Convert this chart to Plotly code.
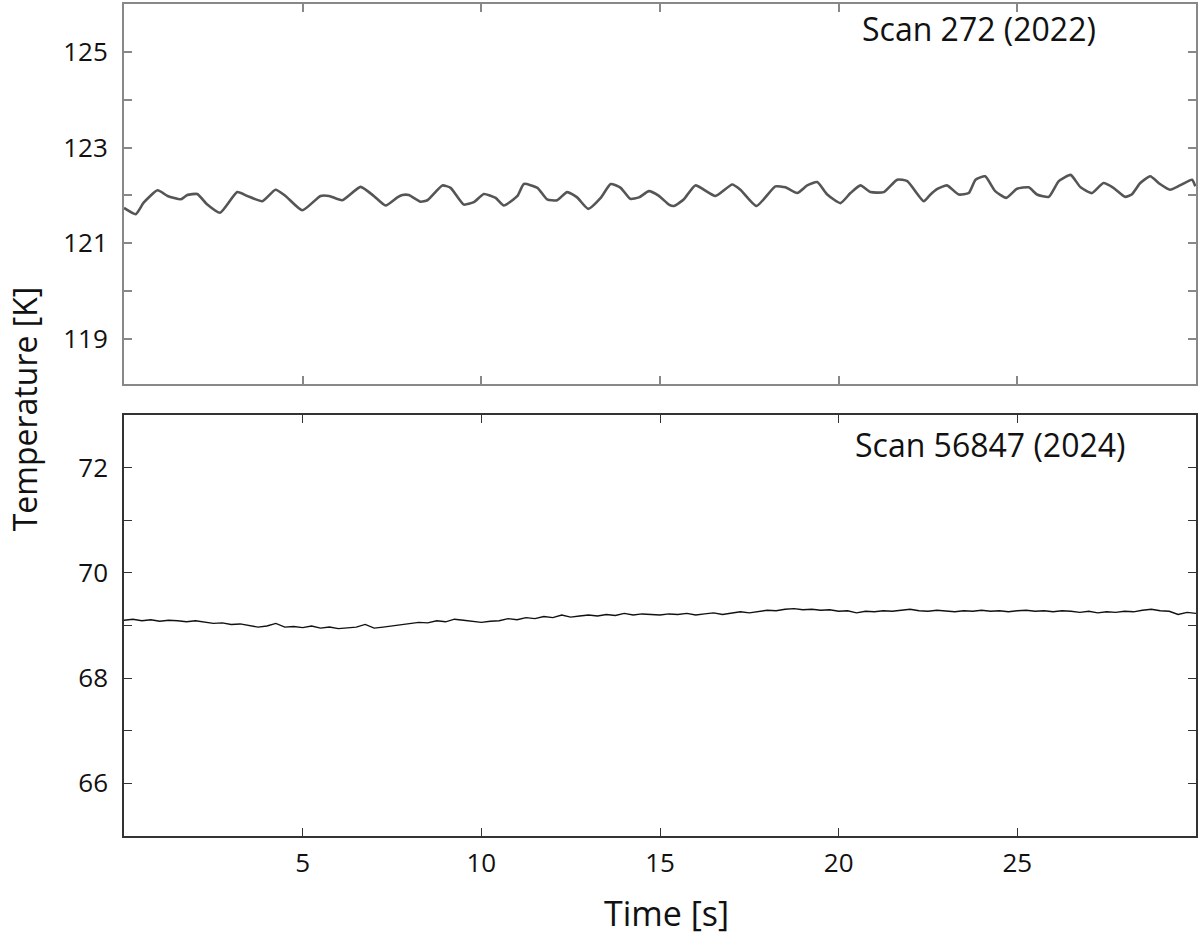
import plotly.graph_objects as go

# Scan 272 (2022)
top_time = [0.00, 0.33, 0.55, 0.94, 1.22, 1.59, 1.77, 2.05, 2.33, 2.69, 3.17, 3.45, 3.87,
            4.24, 4.52, 4.99, 5.50, 5.74, 6.11, 6.62, 6.99, 7.32, 7.65, 7.79, 7.97, 8.30,
            8.49, 8.91, 9.14, 9.51, 9.79, 10.07, 10.40, 10.63, 11.01, 11.19, 11.57, 11.84,
            12.12, 12.40, 12.68, 12.99, 13.34, 13.62, 13.90, 14.17, 14.41, 14.69, 14.97,
            15.25, 15.39, 15.67, 15.99, 16.55, 17.02, 17.25, 17.70, 18.23, 18.51, 18.84,
            19.12, 19.40, 19.68, 20.05, 20.33, 20.61, 20.89, 21.26, 21.64, 21.92, 22.38,
            22.57, 22.75, 23.03, 23.36, 23.64, 23.83, 24.10, 24.38, 24.69, 24.99, 25.32,
            25.55, 25.88, 26.16, 26.49, 26.77, 27.09, 27.41, 27.69, 28.02, 28.20, 28.44,
            28.72, 28.99, 29.27, 29.55, 29.89, 29.98]
top_temp = [121.74, 121.61, 121.85, 122.11, 121.99, 121.92, 122.01, 122.03, 121.81, 121.64,
            122.07, 121.99, 121.88, 122.12, 121.99, 121.69, 121.99, 121.99, 121.90, 122.18,
            121.99, 121.79, 121.96, 122.01, 122.01, 121.87, 121.90, 122.21, 122.16, 121.81,
            121.86, 122.03, 121.95, 121.79, 121.99, 122.24, 122.16, 121.92, 121.90, 122.07,
            121.96, 121.72, 121.95, 122.24, 122.16, 121.93, 121.96, 122.09, 121.99, 121.81,
            121.78, 121.92, 122.21, 121.99, 122.23, 122.12, 121.78, 122.19, 122.17, 122.05,
            122.21, 122.28, 122.02, 121.84, 122.05, 122.21, 122.07, 122.07, 122.33, 122.30,
            121.88, 122.02, 122.13, 122.21, 122.02, 122.05, 122.33, 122.40, 122.09, 121.95,
            122.14, 122.17, 122.02, 121.97, 122.30, 122.43, 122.17, 122.05, 122.26, 122.16,
            121.97, 122.02, 122.26, 122.40, 122.24, 122.12, 122.21, 122.33, 122.19]

# Scan 56847 (2024) - every 0.25 s
bot_time = [i * 0.25 for i in range(121)]
bot_temp = [69.10, 69.12, 69.09, 69.11, 69.08, 69.10, 69.09, 69.07, 69.09, 69.06,
            69.04, 69.05, 69.02, 69.03, 69.00, 68.97, 68.99, 69.04, 68.97, 68.98,
            68.96, 68.99, 68.95, 68.97, 68.94, 68.96, 68.97, 69.02, 68.95, 68.97,
            68.99, 69.01, 69.04, 69.06, 69.05, 69.09, 69.07, 69.12, 69.10, 69.08,
            69.06, 69.08, 69.09, 69.13, 69.11, 69.15, 69.13, 69.17, 69.15, 69.20,
            69.16, 69.18, 69.20, 69.18, 69.21, 69.19, 69.23, 69.20, 69.22, 69.21,
            69.20, 69.22, 69.21, 69.23, 69.20, 69.22, 69.24, 69.21, 69.23, 69.26,
            69.24, 69.27, 69.29, 69.28, 69.31, 69.32, 69.30, 69.31, 69.29, 69.30,
            69.27, 69.28, 69.24, 69.27, 69.26, 69.28, 69.27, 69.29, 69.31, 69.28,
            69.27, 69.29, 69.28, 69.26, 69.28, 69.27, 69.29, 69.27, 69.28, 69.26,
            69.28, 69.29, 69.27, 69.28, 69.26, 69.28, 69.27, 69.25, 69.27, 69.24,
            69.26, 69.25, 69.27, 69.26, 69.29, 69.31, 69.28, 69.27, 69.21, 69.25,
            69.23]

x_ticks = [5, 10, 15, 20, 25]
top_yticks = [119, 120, 121, 122, 123, 124, 125]
top_ylabels = ["119", "", "121", "", "123", "", "125"]
bot_yticks = [66, 67, 68, 69, 70, 71, 72]
bot_ylabels = ["66", "", "68", "", "70", "", "72"]

FONT = "Open Sans, Noto Sans, sans-serif"

fig = go.Figure()
fig.add_trace(go.Scatter(x=top_time, y=top_temp, mode="lines", xaxis="x", yaxis="y",
                         line=dict(color="#555555", width=2.6, shape="spline", smoothing=0.5),
                         showlegend=False))
fig.add_trace(go.Scatter(x=bot_time, y=bot_temp, mode="lines", xaxis="x2", yaxis="y2",
                         line=dict(color="#111111", width=1.4),
                         showlegend=False))

tick_font = dict(family=FONT, size=26, color="#111111")

fig.update_layout(
    width=1200, height=937,
    margin=dict(l=124, r=3, t=2, b=101),
    paper_bgcolor="white", plot_bgcolor="white",
    font=dict(family=FONT, color="#111111"),
    xaxis=dict(domain=[0, 1], range=[0, 30], anchor="y",
               tickvals=x_ticks, showticklabels=False,
               ticks="inside", ticklen=8, tickcolor="#888888", tickwidth=1.5,
               showline=True, linecolor="#888888", linewidth=2, mirror="ticks",
               showgrid=False, zeroline=False),
    yaxis=dict(domain=[0.5432, 1.0], range=[118.06, 126.0], anchor="x",
               tickvals=top_yticks, ticktext=top_ylabels, tickfont=tick_font,
               ticks="inside", ticklen=8, tickcolor="#888888", tickwidth=1.5,
               ticklabelstandoff=9,
               showline=True, linecolor="#888888", linewidth=2, mirror="ticks",
               showgrid=False, zeroline=False),
    xaxis2=dict(domain=[0, 1], range=[0, 30], anchor="y2",
                tickvals=x_ticks, tickfont=tick_font,
                ticks="inside", ticklen=8, tickcolor="#333333", tickwidth=1.2,
                ticklabelstandoff=3,
                showline=True, linecolor="#333333", linewidth=1.5, mirror="ticks",
                showgrid=False, zeroline=False),
    yaxis2=dict(domain=[0, 0.506], range=[65, 73], anchor="x2",
                tickvals=bot_yticks, ticktext=bot_ylabels, tickfont=tick_font,
                ticks="inside", ticklen=8, tickcolor="#333333", tickwidth=1.2,
                ticklabelstandoff=9,
                showline=True, linecolor="#333333", linewidth=1.5, mirror="ticks",
                showgrid=False, zeroline=False),
    annotations=[
        dict(text="Scan 272 (2022)", x=0.798, y=0.970, xref="paper", yref="paper",
             showarrow=False, xanchor="center", yanchor="middle",
             font=dict(family=FONT, size=32, color="#111111")),
        dict(text="Scan 56847 (2024)", x=0.808, y=0.471, xref="paper", yref="paper",
             showarrow=False, xanchor="center", yanchor="middle",
             font=dict(family=FONT, size=32, color="#111111")),
        dict(text="Temperature [K]", x=-0.0932, y=0.513, xref="paper", yref="paper",
             showarrow=False, xanchor="center", yanchor="middle", textangle=-90,
             font=dict(family=FONT, size=32, color="#111111")),
        dict(text="Time [s]", x=0.506, y=-0.0923, xref="paper", yref="paper",
             showarrow=False, xanchor="center", yanchor="middle",
             font=dict(family=FONT, size=34, color="#111111")),
    ],
)

# drop the default page margin so the figure sits at the window's top-left corner
fig.write_html("out.html", config={"displayModeBar": False},
               post_script="document.body.style.margin='0';")
